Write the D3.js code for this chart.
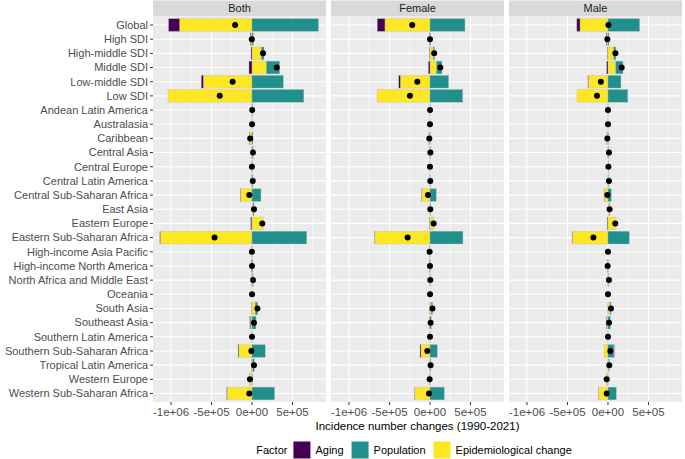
<!DOCTYPE html>
<html lang="en">
<head>
  <meta charset="UTF-8">
  <title>Decomposition</title>
  <style>
    body { margin: 0; background: #fff; }
    text { font-family: "Liberation Sans", Arial, sans-serif; }
  </style>
</head>
<body>

  <svg id="svg" width="685" height="459"></svg>

  <script src="https://d3js.org/d3.v7.min.js"></script>
  <script>
    // --------------- data (values in thousands) ---------------
    const regions = [
      'Global', 'High SDI', 'High-middle SDI', 'Middle SDI', 'Low-middle SDI', 'Low SDI',
      'Andean Latin America', 'Australasia', 'Caribbean', 'Central Asia', 'Central Europe',
      'Central Latin America', 'Central Sub-Saharan Africa', 'East Asia', 'Eastern Europe',
      'Eastern Sub-Saharan Africa', 'High-income Asia Pacific', 'High-income North America',
      'North Africa and Middle East', 'Oceania', 'South Asia', 'Southeast Asia',
      'Southern Latin America', 'Southern Sub-Saharan Africa', 'Tropical Latin America',
      'Western Europe', 'Western Sub-Saharan Africa'
    ]

    const sexes = ['Both', 'Female', 'Male']
    const factors = ['Aging', 'Population', 'Epidemiological change']

    const bothAging = [-136, -8, -12, -37, -25, 5, 1, 0, -4, -2, 1, -2, -4, 5, -12, -6, -1, -5, -2, 0, -3, -8, 0, -8, -3, -2, -5]
    const bothPop   = [822, 18, 33, 165, 387, 634, 5, 2, 12, 10, 1, 10, 111, 8, -3, 676, 1, 8, 10, 1, 30, 50, 2, 164, 20, 5, 279]
    const bothEpi   = [-894, -12, 115, 177, -601, -1037, -3, -1, -30, 5, -3, 2, -140, 12, 142, -1132, -1, -3, 6, 0, 40, -18, -2, -164, 8, -28, -307]

    const femaleAging = [-95, -3, -5, -20, -20, 3, 0, 0, -2, -1, 0, -1, -3, 2, -3, -3, -1, -3, -1, 0, -2, -3, 0, -12, -2, -1, -3]
    const femalePop   = [432, 8, 16, 68, 230, 403, 3, 1, 6, 5, 1, 5, 78, 4, -1, 407, 1, 4, 5, 1, 18, 16, 1, 90, 10, 3, 177]
    const femaleEpi   = [-556, -5, 41, 80, -366, -653, -2, -1, -12, 1, -1, 0, -99, -2, 49, -680, -4, -1, 0, 0, 15, -5, -1, -111, 0, -6, -186]

    const maleAging = [-40, -8, -5, -16, -5, 4, 0, 0, -2, -1, 1, -1, -1, 3, -8, -3, 0, -2, -1, 0, -1, -5, 0, 8, -1, -1, -2]
    const malePop   = [391, 12, 27, 90, 160, 243, 2, 1, 6, 5, 0, 5, 41, 4, -2, 263, 0, 4, 5, 0, 12, 30, 1, 70, 10, 2, 103]
    const maleEpi   = [-345, -12, 70, 95, -243, -383, -2, -1, -12, 8, 4, 8, -48, 13, 100, -440, 0, -6, 8, 0, 26, -12, -1, -49, 7, -17, -117]

    const xTicks = [-1e6, -5e5, 0, 5e5]
    const xTickLabels = ['-1e+06', '-5e+05', '0e+00', '5e+05']
    const xMinor = [-7.5e5, -2.5e5, 2.5e5, 7.5e5]

    const series = {
      Both:   { Aging: bothAging,   Population: bothPop,   'Epidemiological change': bothEpi },
      Female: { Aging: femaleAging, Population: femalePop, 'Epidemiological change': femaleEpi },
      Male:   { Aging: maleAging,   Population: malePop,   'Epidemiological change': maleEpi }
    }

    const colors = d3.scaleOrdinal()
      .domain(factors)
      .range(['#440154', '#21908C', '#FDE725'])

    // --------------- layout ---------------
    const panelLeft = 153
    const panelRight = 682
    const gap = 5
    const panelW = (panelRight - panelLeft - 2 * gap) / 3
    const stripTop = 0.5
    const stripH = 16
    const panelTop = stripTop + stripH
    const panelBottom = 402

    const svg = d3.select('#svg')

    const xScale = d3.scaleLinear()
      .domain([-1.222e6, 0.914e6])
      .range([0, panelW])

    const yScale = d3.scalePoint()
      .domain(regions)
      .range([panelTop, panelBottom])
      .padding(0.6)

    const barH = yScale.step() * 0.9

    // stack: first key sits next to zero, last key outermost
    const stack = d3.stack()
      .keys(['Epidemiological change', 'Population', 'Aging'])
      .offset(d3.stackOffsetDiverging)

    // --------------- y axis (left of first panel) ---------------
    const yAxis = svg.append('g')
    yAxis.selectAll('line')
      .data(regions)
      .enter()
      .append('line')
      .attr('x1', panelLeft - 3)
      .attr('x2', panelLeft)
      .attr('y1', d => yScale(d))
      .attr('y2', d => yScale(d))
      .attr('stroke', '#333333')
      .attr('stroke-width', 1)
    yAxis.selectAll('text')
      .data(regions)
      .enter()
      .append('text')
      .text(d => d)
      .attr('x', panelLeft - 5)
      .attr('y', d => yScale(d))
      .attr('dy', '0.35em')
      .attr('text-anchor', 'end')
      .style('font-size', '11px')
      .style('fill', '#4D4D4D')

    // --------------- panels ---------------
    sexes.forEach((sex, i) => {
      const x0 = panelLeft + i * (panelW + gap)
      const g = svg.append('g').attr('transform', `translate(${x0},0)`)

      // strip
      g.append('rect')
        .attr('x', 0).attr('y', stripTop)
        .attr('width', panelW).attr('height', stripH)
        .attr('fill', '#D9D9D9')
      g.append('text')
        .text(sex)
        .attr('x', panelW / 2)
        .attr('y', stripTop + stripH / 2)
        .attr('dy', '0.35em')
        .attr('text-anchor', 'middle')
        .style('font-size', '11px')
        .style('fill', '#1A1A1A')

      // panel background + grid
      g.append('rect')
        .attr('x', 0).attr('y', panelTop)
        .attr('width', panelW).attr('height', panelBottom - panelTop)
        .attr('fill', '#EBEBEB')

      g.selectAll('.minor')
        .data(xMinor)
        .enter()
        .append('line')
        .attr('x1', d => xScale(d)).attr('x2', d => xScale(d))
        .attr('y1', panelTop).attr('y2', panelBottom)
        .attr('stroke', '#fff').attr('stroke-width', 0.55)

      g.selectAll('.major')
        .data(xTicks)
        .enter()
        .append('line')
        .attr('x1', d => xScale(d)).attr('x2', d => xScale(d))
        .attr('y1', panelTop).attr('y2', panelBottom)
        .attr('stroke', '#fff').attr('stroke-width', 1.1)

      g.selectAll('.hgrid')
        .data(regions)
        .enter()
        .append('line')
        .attr('x1', 0).attr('x2', panelW)
        .attr('y1', d => yScale(d)).attr('y2', d => yScale(d))
        .attr('stroke', '#fff').attr('stroke-width', 1.1)

      // bars
      const rows = regions.map((r, k) => ({
        region: r,
        Aging: series[sex].Aging[k] * 1000,
        Population: series[sex].Population[k] * 1000,
        'Epidemiological change': series[sex]['Epidemiological change'][k] * 1000
      }))

      const layers = stack(rows)

      g.selectAll('.layer')
        .data(layers)
        .enter()
        .append('g')
        .attr('fill', d => colors(d.key))
        .selectAll('rect')
        .data(d => d)
        .enter()
        .append('rect')
        .attr('x', d => xScale(Math.min(d[0], d[1])))
        .attr('width', d => Math.abs(xScale(d[1]) - xScale(d[0])))
        .attr('y', d => yScale(d.data.region) - barH / 2)
        .attr('height', barH)
        .attr('stroke', 'rgba(190,190,190,0.7)')
        .attr('stroke-width', 0.5)

      // total change dots
      g.selectAll('circle')
        .data(rows)
        .enter()
        .append('circle')
        .attr('cx', d => xScale(d.Aging + d.Population + d['Epidemiological change']))
        .attr('cy', d => yScale(d.region))
        .attr('r', 3)
        .attr('fill', '#000')

      // x axis
      g.selectAll('.xtick')
        .data(xTicks)
        .enter()
        .append('line')
        .attr('x1', d => xScale(d)).attr('x2', d => xScale(d))
        .attr('y1', panelBottom).attr('y2', panelBottom + 3)
        .attr('stroke', '#333333')
      g.selectAll('.xlab')
        .data(xTicks)
        .enter()
        .append('text')
        .text((d, k) => xTickLabels[k])
        .attr('x', d => xScale(d))
        .attr('y', panelBottom + 13.5)
        .attr('text-anchor', 'middle')
        .style('font-size', '11.5px')
        .style('fill', '#4D4D4D')
    })

    // --------------- axis title ---------------
    svg.append('text')
      .text('Incidence number changes (1990-2021)')
      .attr('x', (panelLeft + panelRight) / 2)
      .attr('y', 430)
      .attr('text-anchor', 'middle')
      .style('font-size', '11.5px')
      .style('fill', '#000')

    // --------------- legend ---------------
    const legend = svg.append('g')
    const keySize = 17
    const legendY = 450
    let cursor = 0

    const title = legend.append('text')
      .text('Factor')
      .attr('x', cursor)
      .attr('y', legendY)
      .attr('dy', '0.35em')
      .style('font-size', '11px')
    cursor += title.node().getComputedTextLength() + 6

    factors.forEach(f => {
      legend.append('rect')
        .attr('x', cursor).attr('y', legendY - keySize / 2)
        .attr('width', keySize).attr('height', keySize)
        .attr('fill', colors(f))
      cursor += keySize + 5
      const t = legend.append('text')
        .text(f)
        .attr('x', cursor)
        .attr('y', legendY)
        .attr('dy', '0.35em')
        .style('font-size', '11px')
      cursor += t.node().getComputedTextLength() + 8
    })
    cursor -= 8

    legend.attr('transform', `translate(${414 - cursor / 2},0)`)
  </script>
</body>
</html>
